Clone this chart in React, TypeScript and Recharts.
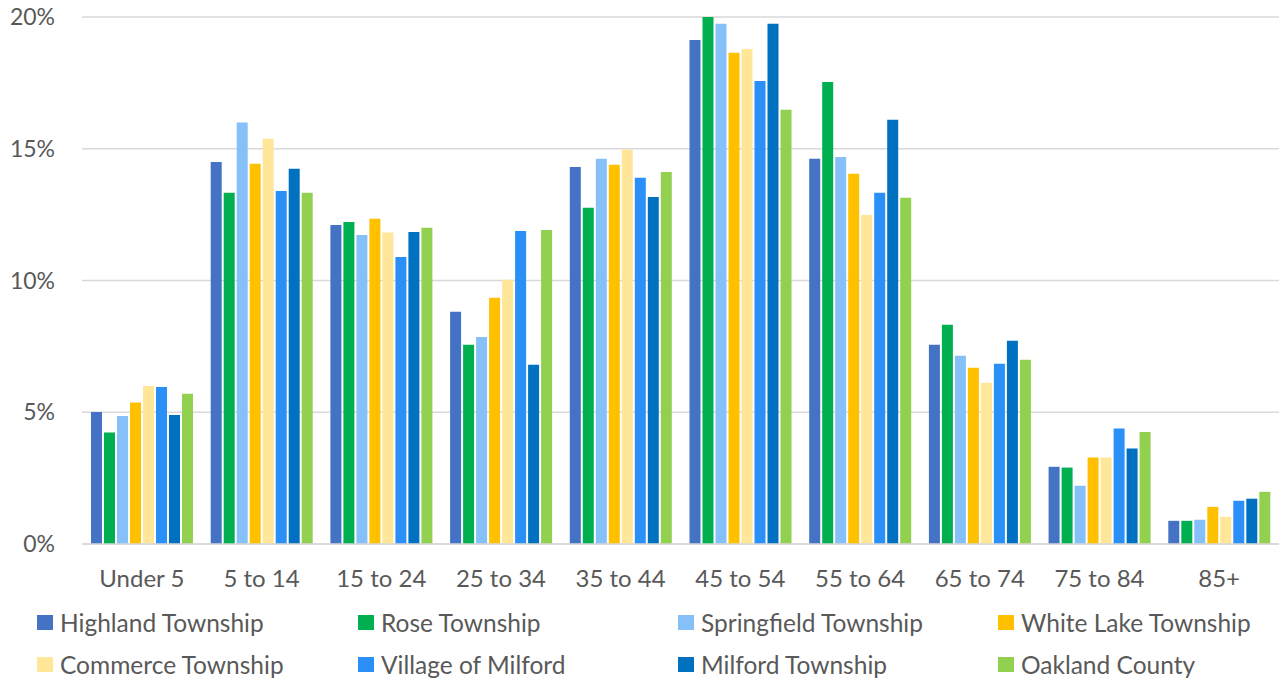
import { Bar, BarChart, CartesianGrid, XAxis, YAxis } from "recharts";

const AGE_GROUPS = [
  "Under 5",
  "5 to 14",
  "15 to 24",
  "25 to 34",
  "35 to 44",
  "45 to 54",
  "55 to 64",
  "65 to 74",
  "75 to 84",
  "85+",
];

const HIGHLAND = [5.01, 14.5, 12.11, 8.81, 14.31, 19.13, 14.62, 7.56, 2.93, 0.88];
const ROSE = [4.23, 13.33, 12.22, 7.56, 12.76, 20.0, 17.53, 8.32, 2.9, 0.88];
const SPRINGFIELD = [4.86, 16.0, 11.73, 7.86, 14.62, 19.74, 14.69, 7.14, 2.21, 0.92];
const WHITE_LAKE = [5.37, 14.43, 12.34, 9.35, 14.39, 18.64, 14.05, 6.69, 3.28, 1.41];
const COMMERCE = [6.0, 15.38, 11.82, 10.03, 14.96, 18.79, 12.49, 6.12, 3.28, 1.03];
const VILLAGE_MILFORD = [5.96, 13.4, 10.89, 11.88, 13.9, 17.57, 13.33, 6.84, 4.38, 1.64];
const MILFORD_TWP = [4.9, 14.24, 11.84, 6.8, 13.17, 19.74, 16.1, 7.71, 3.62, 1.72];
const OAKLAND = [5.7, 13.33, 12.0, 11.92, 14.12, 16.48, 13.14, 6.99, 4.25, 1.98];

const Y_TICKS = [0, 5, 10, 15, 20];

const SERIES = [
  { key: "highland", name: "Highland Township", color: "#4472C4", values: HIGHLAND },
  { key: "rose", name: "Rose Township", color: "#00B050", values: ROSE },
  { key: "springfield", name: "Springfield Township", color: "#85C0F9", values: SPRINGFIELD },
  { key: "whiteLake", name: "White Lake Township", color: "#FFC000", values: WHITE_LAKE },
  { key: "commerce", name: "Commerce Township", color: "#FFE699", values: COMMERCE },
  { key: "village", name: "Village of Milford", color: "#2A8FF7", values: VILLAGE_MILFORD },
  { key: "milford", name: "Milford Township", color: "#0070C0", values: MILFORD_TWP },
  { key: "oakland", name: "Oakland County", color: "#92D050", values: OAKLAND },
];

const DATA = AGE_GROUPS.map((age, i) => {
  const row: Record<string, string | number> = { age };
  SERIES.forEach((s) => {
    row[s.key] = s.values[i];
  });
  return row;
});

const FONT = "Lato, 'Noto Sans', sans-serif";
const TEXT = "#595959";

// legend columns, left edge of each marker
const LEGEND_COLS = [37, 358, 678, 998];

function LegendBlock() {
  return (
    <div style={{ position: "relative", width: 1279, height: 80, fontFamily: FONT }}>
      {SERIES.map((s, i) => {
        const col = i % 4;
        const row = Math.floor(i / 4);
        return (
          <div
            key={s.key}
            style={{
              position: "absolute",
              left: LEGEND_COLS[col],
              top: 8 + row * 42,
              display: "flex",
              alignItems: "center",
              height: 29,
              fontSize: 24.5,
              color: TEXT,
              whiteSpace: "nowrap",
            }}
          >
            <span
              style={{
                display: "inline-block",
                width: 16,
                height: 15,
                background: s.color,
                marginRight: 7,
              }}
            />
            {s.name}
          </div>
        );
      })}
    </div>
  );
}

export default function App() {
  return (
    <div style={{ width: 1279, height: 680, background: "#fff" }}>
      <style>{`body{margin:0}`}</style>
      <BarChart
        width={1279}
        height={600}
        data={DATA}
        margin={{ top: 17, right: 0, bottom: 0, left: 0 }}
        barCategoryGap={9}
        barGap={2}
      >
        <CartesianGrid vertical={false} stroke="#D9D9D9" strokeWidth={1.5} />
        <XAxis
          dataKey="age"
          height={56}
          axisLine={{ stroke: "#D9D9D9", strokeWidth: 1.5 }}
          tickLine={false}
          tickSize={0}
          tickMargin={26}
          tick={{ fill: TEXT, fontSize: 24, fontFamily: FONT }}
        />
        <YAxis
          width={82}
          domain={[0, 20]}
          ticks={Y_TICKS}
          tickFormatter={(v: number) => `${v}%`}
          axisLine={false}
          tickLine={false}
          tickSize={0}
          tickMargin={27}
          tick={{ fill: TEXT, fontSize: 23, fontFamily: FONT }}
        />
        {SERIES.map((s) => (
          <Bar
            key={s.key}
            dataKey={s.key}
            name={s.name}
            fill={s.color}
            isAnimationActive={false}
          />
        ))}
      </BarChart>
      <LegendBlock />
    </div>
  );
}
